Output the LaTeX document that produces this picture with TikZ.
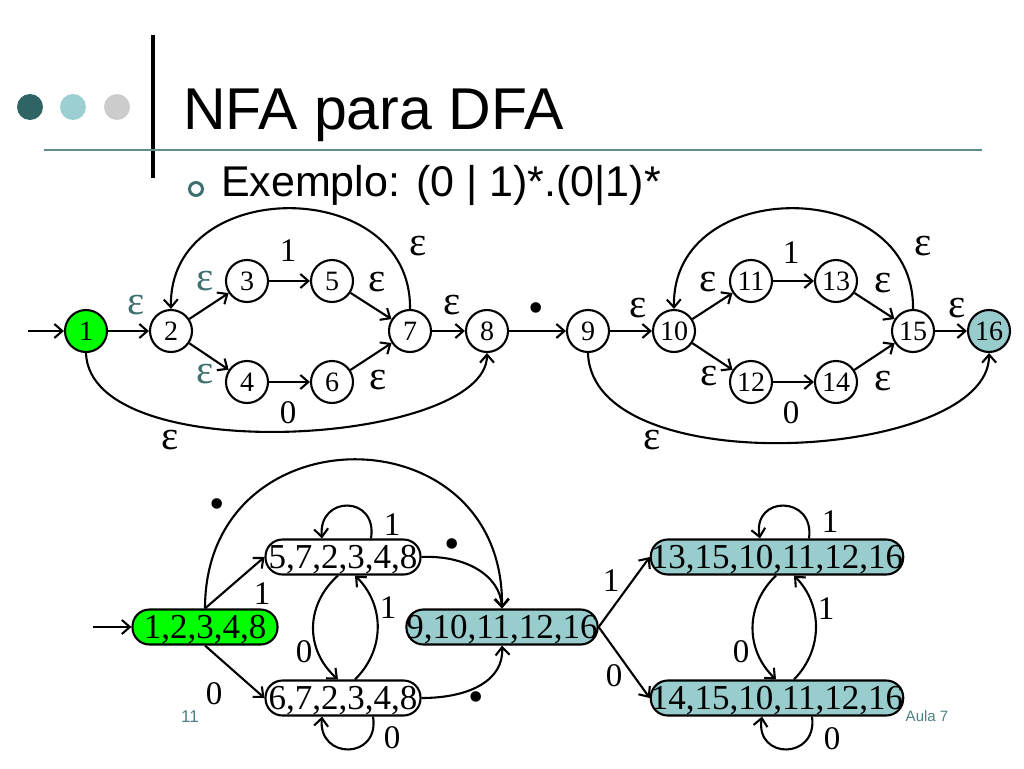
\documentclass[tikz,border=0pt]{standalone}
\usepackage{fontspec}
\setmainfont{Liberation Serif}
\newfontfamily\arialfont{Liberation Sans}
\usetikzlibrary{arrows.meta}
\definecolor{startgreen}{HTML}{00FF00}
\definecolor{finalteal}{HTML}{99CCCC}
\definecolor{darkteal}{HTML}{2F6464}
\definecolor{lightteal}{HTML}{9CCFD1}
\definecolor{dotgrey}{HTML}{CCCCCC}
\definecolor{rulegrey}{HTML}{5F8C8C}
\definecolor{epsteal}{HTML}{3F7070}
\definecolor{footteal}{HTML}{4F7F80}
\newcommand{\fsz}[1]{\fontsize{#1}{#1}\selectfont}

\begin{document}
\begin{tikzpicture}[x=1pt,y=-1pt,line width=2.1pt,>={Straight Barb[length=8pt,width=14pt]},
  state/.style={circle,draw,minimum size=42pt,inner sep=0pt,font=\fsz{28}},
  dstate/.style={draw,rounded corners=17pt,minimum height=35pt,inner sep=0pt,text depth=0pt,font=\fsz{35}},
  trans/.style={->},
  lbl/.style={inner sep=0pt,font=\fsz{33}},
  bul/.style={inner sep=0pt,font=\fsz{44}},
  eps/.style={inner sep=0pt,font=\fsz{41}}]
  \fill[white] (0,0) rectangle (1024,768);
  \useasboundingbox (0,0) rectangle (1024,768);
  % slide header
  \fill[darkteal] (30,107) circle[radius=13pt];
  \fill[lightteal] (73,107) circle[radius=13pt];
  \fill[dotgrey] (117,107) circle[radius=13pt];
  \draw[line width=3.5pt] (153,35) -- (153,178);
  \draw[rulegrey,line width=1.6pt] (44,150) -- (982,150);
  \node[anchor=base west,inner sep=0pt,font=\arialfont\fsz{59}] (title) at (182,129) {NFA para DFA};
  \draw[epsteal,line width=3pt] (196,189) circle[radius=6.5pt];
  \node[anchor=base west,inner sep=0pt,font=\arialfont\fsz{43}] (example) at (220,196) {Exemplo: (0 | 1)*.(0|1)*};
  % NFA
  \foreach \i/\x/\y/\c in {1/86/331/startgreen,2/171/331/white,3/247/281/white,4/247/382/white,
      5/332/281/white,6/332/382/white,7/410/331/white,8/487/331/white,9/588/331/white,
      10/674/331/white,11/751/281/white,12/751/382/white,13/836/281/white,14/836/382/white,
      15/913/331/white,16/989/331/finalteal}
    \node[state,fill=\c] (n\i) at (\x,\y) {\i};
  \coordinate (nfastart) at (28,331);
  \draw[trans] (nfastart) -- (n1);
  \foreach \a/\b in {1/2,2/3,2/4,3/5,4/6,5/7,6/7,7/8,8/9,9/10,10/11,10/12,11/13,12/14,13/15,14/15,15/16}
    \draw[trans] (n\a) -- (n\b);
  \draw[trans] (n7.north) .. controls (412,175) and (168,175) .. (n2.north);
  \draw[trans] (n15.north) .. controls (915,175) and (671,175) .. (n10.north);
  \draw[trans] (n1.south) .. controls (90,470) and (487,445) .. (n8.south);
  \draw[trans] (n9.south) .. controls (592,485) and (990,460) .. (n16.south);
  \foreach \x/\y [count=\k] in {418/246,377/282,452/305,378/380,170/440,638/308,708/282,
      883/283,923/246,957/308,709/376,883/381,652/440}
    \node[eps] (eps\k) at (\x,\y) {ε};
  \foreach \x/\y [count=\k] in {136/305,205/281,205/374}
    \node[eps,epsteal] (epst\k) at (\x,\y) {ε};
  \foreach \x/\y/\t [count=\k] in {288/251/1,288/413/0,791/253/1,791/413/0}
    \node[lbl] (nlbl\k) at (\x,\y) {\t};
  \node[bul] (concat) at (536,313) {•};
  % DFA
  \node[dstate,fill=startgreen,minimum width=145pt] (dA) at (205,627) {1,2,3,4,8};
  \node[dstate,minimum width=155pt] (dB) at (343,557) {5,7,2,3,4,8};
  \node[dstate,minimum width=155pt] (dC) at (343,698) {6,7,2,3,4,8};
  \node[dstate,fill=finalteal,minimum width=191pt] (dD) at (502,627) {9,10,11,12,16};
  \node[dstate,fill=finalteal,minimum width=246pt] (dE) at (777,557) {13,15,10,11,12,16};
  \node[dstate,fill=finalteal,minimum width=246pt] (dF) at (777,698) {14,15,10,11,12,16};
  \coordinate (dfastart) at (93,627);
  \draw[trans] (dfastart) -- (dA);
  \draw[trans] (dA.north) -- (dB.west);
  \draw[trans] (dA.south) -- (dC.west);
  \draw[trans] (dA.north) .. controls (205,410) and (504,410) .. (dD.north);
  \draw[trans] (dB.east) .. controls (465,555) and (500,575) .. (dD.north);
  \draw[trans] (dC.east) .. controls (470,698) and (504,680) .. (dD.south);
  \draw[trans] ([xshift=28pt]dB.north) .. controls (378,495) and (318,495) .. ([xshift=-21pt]dB.north);
  \draw[trans] ([xshift=30pt]dC.south) .. controls (380,760) and (318,760) .. ([xshift=-21pt]dC.south);
  \draw[trans] ([xshift=-5pt]dB.south) .. controls (305,605) and (305,650) .. ([xshift=-5pt]dC.north);
  \draw[trans] ([xshift=12pt]dC.north) .. controls (385,650) and (385,605) .. ([xshift=12pt]dB.south);
  \draw[trans] (dD.east) -- (dE.west);
  \draw[trans] (dD.east) -- (dF.west);
  \draw[trans] ([xshift=-1pt]dE.south) .. controls (745,605) and (745,650) .. ([xshift=-1pt]dF.north);
  \draw[trans] ([xshift=17pt]dF.north) .. controls (823,650) and (823,605) .. ([xshift=17pt]dE.south);
  \draw[trans] ([xshift=32pt]dE.north) .. controls (815,495) and (752,495) .. ([xshift=-17pt]dE.north);
  \draw[trans] ([xshift=35pt]dF.south) .. controls (818,760) and (755,760) .. ([xshift=-15pt]dF.south);
  \foreach \x/\y [count=\k] in {217/509,452/549,476/702}
    \node[bul] (dot\k) at (\x,\y) {•};
  \foreach \x/\y/\t [count=\k] in {262/594/1,214/694/0,392/525/1,392/738/0,304/652/0,388/608/1,
      611/581/1,614/676/0,741/652/0,826/609/1,830/522/1,832/739/0}
    \node[lbl] (dlbl\k) at (\x,\y) {\t};
  % footer
  \node[inner sep=0pt,footteal,font=\arialfont\fsz{17}] (page) at (190,717) {11};
  \node[inner sep=0pt,footteal,font=\arialfont\fsz{15}] (lesson) at (927,716) {Aula 7};
\end{tikzpicture}
\end{document}
